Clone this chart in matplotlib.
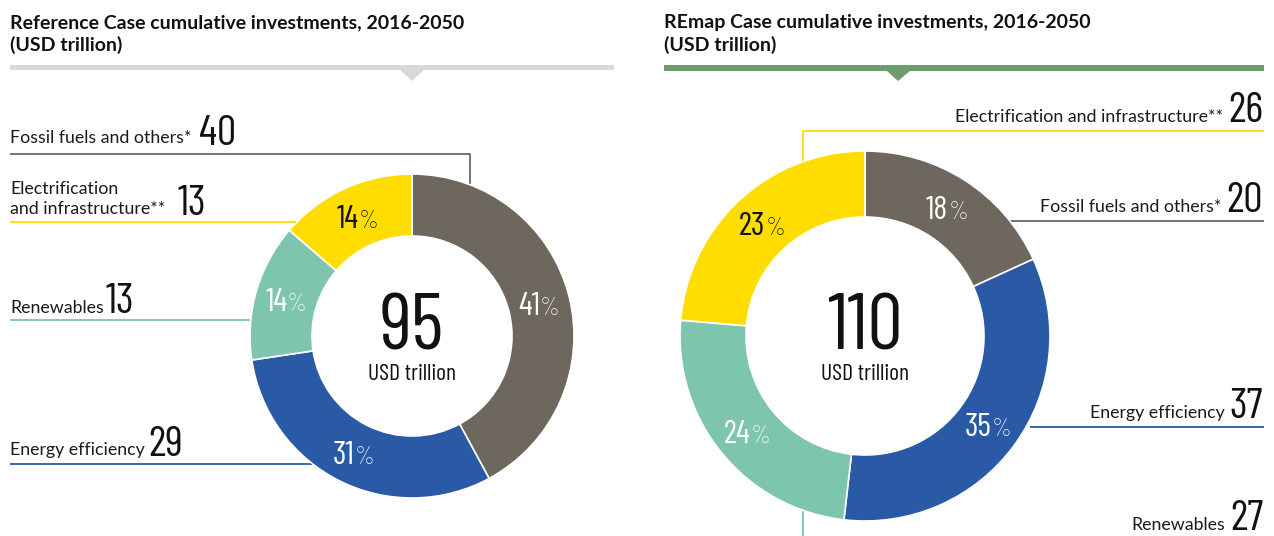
import matplotlib
matplotlib.use('Agg')
import matplotlib.pyplot as plt
import numpy as np

W, H = 1274, 536

# ---- data ----
categories = ["Fossil fuels and others*", "Energy efficiency", "Renewables",
              "Electrification and infrastructure**"]
ref_values = [40, 29, 13, 13]
remap_values = [20, 37, 27, 26]
ref_pct = [41, 31, 14, 14]
remap_pct = [18, 35, 24, 23]
ref_total = 95
remap_total = 110
titles = ["Reference Case cumulative investments, 2016-2050",
          "REmap Case cumulative investments, 2016-2050"]
subtitle = "(USD trillion)"
unit = "USD trillion"

colors = ['#6d675d', '#2a5aa6', '#7dc5ac', '#ffdd00']
pct_colors = ['white', 'white', 'white', '#111111']
pct_weights = ['normal', 'normal', 'normal', 'normal']

LBLF = ['Lato', 'DejaVu Sans']
NUMF = ['Barlow Condensed', 'DejaVu Sans']
TXT = '#1a1a1a'
NUMW = 'normal'

fig = plt.figure(figsize=(W / 100, H / 100), dpi=100)
ax = fig.add_axes([0, 0, 1, 1])
renderer = fig.canvas.get_renderer()


def Y(y):
    return H - y


DONUTS = [(ref_values, ref_pct, 412, 336, 162, 100, ref_total),
          (remap_values, remap_pct, 865, 336, 185, 119, remap_total)]

# pies first (ax.pie changes limits)
for values, pcts, cx, cy, r_out, r_in, total in DONUTS:
    ax.pie(values, colors=colors, startangle=90, counterclock=False,
           radius=r_out, center=(cx, Y(cy)),
           wedgeprops=dict(width=r_out - r_in, edgecolor='white',
                           linewidth=1.2, zorder=3))

ax.set_xlim(0, W)
ax.set_ylim(0, H)
ax.set_aspect('auto')
ax.axis('off')


def donut_texts(values, pcts, cx, cy, r_out, r_in, total):
    vals = np.array(values, dtype=float)
    cum = np.cumsum(vals) - vals / 2
    mid = 90 - cum / vals.sum() * 360
    rm = (r_out + r_in) / 2
    for ang, p, c, wgt in zip(mid, pcts, pct_colors, pct_weights):
        x = cx + rm * np.cos(np.radians(ang))
        y = Y(cy) + rm * np.sin(np.radians(ang))
        t1 = ax.text(0, 0, str(p), fontsize=23.5, family=NUMF, weight=wgt,
                     color=c, va='baseline', ha='left', zorder=5)
        t2 = ax.text(0, 0, '%', fontsize=18, family=NUMF, weight='light',
                     color=c, va='baseline', ha='left', zorder=5)
        w1 = t1.get_window_extent(renderer).width
        w2 = t2.get_window_extent(renderer).width
        x0 = x - (w1 + w2) / 2
        t1.set_position((x0, y - 11))
        t2.set_position((x0 + w1, y - 11))
    ax.text(cx, Y(350), str(total), fontsize=57, family=NUMF, weight=NUMW,
            color='#111111', ha='center', va='baseline', zorder=5)
    ax.text(cx, Y(380), unit, fontsize=17, family=NUMF, weight='normal',
            color='#111111', ha='center', va='baseline', zorder=5)


def left_label(lines, num, x, ybase, ynum, gap=8):
    ts = []
    for i, ln in enumerate(lines):
        ts.append(ax.text(x, Y(ybase - 20 * (len(lines) - 1 - i)), ln,
                          fontsize=12.8, family=LBLF, color=TXT,
                          ha='left', va='baseline'))
    x1 = max(t.get_window_extent(renderer).x1 for t in ts)
    ax.text(x1 + gap, Y(ynum), str(num), fontsize=31, family=NUMF, weight=NUMW,
            color='#111111', ha='left', va='baseline')


def right_label(text, num, xr, ybase, gap=5):
    tn = ax.text(xr, Y(ybase), str(num), fontsize=31, family=NUMF, weight=NUMW,
                 color='#111111', ha='right', va='baseline')
    bb = tn.get_window_extent(renderer)
    ax.text(bb.x0 - gap, Y(ybase), text, fontsize=12.8, family=LBLF, color=TXT,
            ha='right', va='baseline')


def line(xs, ys, color):
    ax.plot(xs, [Y(v) for v in ys], color=color, lw=1.3, zorder=1,
            solid_capstyle='butt')


# ---- headers ----
for x, t in zip([10, 664], titles):
    ax.text(x, Y(28), t, fontsize=14, fontweight='bold', family=LBLF,
            color='#111111', ha='left', va='baseline')
    ax.text(x, Y(51), subtitle, fontsize=14, fontweight='bold', family=LBLF,
            color='#111111', ha='left', va='baseline')
ax.fill([10, 614, 614, 10], [Y(65), Y(65), Y(70), Y(70)], color='#d9d9d9', lw=0)
ax.fill([400, 424, 412], [Y(70), Y(70), Y(81)], color='#d9d9d9', lw=0)
ax.fill([664, 1264, 1264, 664], [Y(65), Y(65), Y(71), Y(71)], color='#6e9c6e', lw=0)
ax.fill([887, 910, 898], [Y(71), Y(71), Y(81)], color='#6e9c6e', lw=0)

for d in DONUTS:
    donut_texts(*d)

# ---- left donut labels ----
line([10, 470, 470], [154, 154, 190], colors[0])
line([10, 300], [222, 222], colors[3])
line([10, 260], [320, 320], colors[2])
line([10, 330], [464, 464], colors[1])
left_label([categories[0]], ref_values[0], 10, 143, 145)
left_label(["Electrification", "and infrastructure**"], ref_values[3], 10, 214, 215, gap=12)
left_label([categories[2]], ref_values[2], 10, 313, 313, gap=2)
left_label([categories[1]], ref_values[1], 10, 455, 456, gap=4)

# ---- right donut labels ----
line([1264, 803, 803], [131, 131, 175], colors[3])
line([1264, 1010], [221, 221], colors[0])
line([1264, 1030], [427, 427], colors[1])
line([803, 803], [500, 536], colors[2])
right_label(categories[3], remap_values[3], 1263, 122)
right_label(categories[0], remap_values[0], 1263, 212)
right_label(categories[1], remap_values[1], 1263, 418)
right_label(categories[2], remap_values[2], 1263, 530)

fig.savefig('out.png', dpi=100)
